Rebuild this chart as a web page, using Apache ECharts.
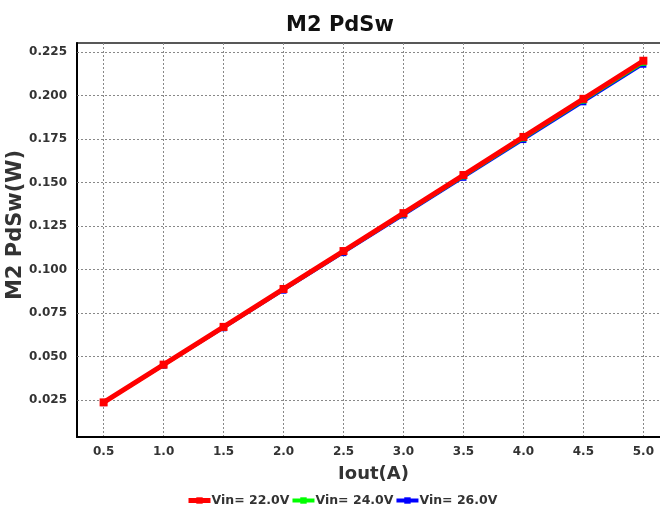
<!DOCTYPE html>
<html>
<head>
<meta charset="utf-8">
<script src="https://cdn.jsdelivr.net/npm/echarts@6/dist/echarts.min.js"></script>
<style>
html,body{margin:0;padding:0;background:#fff;}
#chart{width:660px;height:513px;}
</style>
</head>
<body>
<div id="chart"></div>
<script>
const iout = [0.5, 1.0, 1.5, 2.0, 2.5, 3.0, 3.5, 4.0, 4.5, 5.0];
const vin22 = [0.0236, 0.0453, 0.0670, 0.0888, 0.1106, 0.1324, 0.1543, 0.1762, 0.1981, 0.2200];
const vin24 = [0.0234, 0.0450, 0.0666, 0.0883, 0.1100, 0.1317, 0.1535, 0.1753, 0.1971, 0.2188];
const vin26 = [0.0232, 0.0447, 0.0662, 0.0878, 0.1094, 0.1310, 0.1527, 0.1744, 0.1961, 0.2177];
const xTicks = [0.5, 1.0, 1.5, 2.0, 2.5, 3.0, 3.5, 4.0, 4.5, 5.0];
const yTicks = [0.025, 0.050, 0.075, 0.100, 0.125, 0.150, 0.175, 0.200, 0.225];
const seriesNames = ['Vin= 22.0V', 'Vin= 24.0V', 'Vin= 26.0V'];

const FONT = 'DejaVu Sans';
const pairs = ys => iout.map((x, i) => [x, ys[i]]);

const chart = echarts.init(document.getElementById('chart'), null, {renderer: 'canvas'});
chart.setOption({
  animation: false,
  backgroundColor: '#ffffff',
  title: {
    text: 'M2 PdSw',
    left: 335, top: 10, textAlign: 'center',
    textStyle: {fontFamily: FONT, fontWeight: 'bold', fontSize: 21, color: '#111'}
  },
  legend: {
    bottom: 1, left: 181,
    itemWidth: 22, itemHeight: 8, itemGap: 1,
    textStyle: {fontFamily: FONT, fontWeight: 'bold', fontSize: 12.5, color: '#333', padding: [0,0,0,-4]},
    data: [
      {name: seriesNames[0], lineStyle: {width: 5}},
      {name: seriesNames[1], lineStyle: {width: 4}},
      {name: seriesNames[2], lineStyle: {width: 4}}
    ]
  },
  grid: {
    left: 77, top: 43, right: -10, bottom: 76,
    outerBoundsMode: 'none',
    show: true, borderColor: '#222', borderWidth: 1.5, containLabel: false
  },
  xAxis: {
    type: 'value', min: 0.278, max: 5.222,
    name: 'Iout(A)', nameLocation: 'middle', nameGap: 28, nameMoveOverlap: false,
    nameTextStyle: {fontFamily: FONT, fontWeight: 'bold', fontSize: 18, color: '#333'},
    axisLine: {show: true, lineStyle: {color: '#000', width: 2}},
    axisTick: {show: false, customValues: xTicks},
    axisLabel: {customValues: xTicks, margin: 9, fontFamily: FONT, fontWeight: 'bold', fontSize: 12, color: '#333',
      formatter: v => v.toFixed(1)},
    splitLine: {show: true, lineStyle: {color: '#888', type: [2, 2], width: 1}}
  },
  yAxis: {
    type: 'value', min: 0.0037, max: 0.2302,
    name: 'M2 PdSw(W)', nameLocation: 'middle', nameGap: 51, nameMoveOverlap: false,
    nameTextStyle: {fontFamily: FONT, fontWeight: 'bold', fontSize: 21, color: '#333', padding: [0, 0, 0, 30]},
    axisLine: {show: true, lineStyle: {color: '#000', width: 2}},
    axisTick: {show: true, inside: true, length: 2, customValues: yTicks, lineStyle: {color: '#666'}},
    axisLabel: {customValues: yTicks, margin: 10, fontFamily: FONT, fontWeight: 'bold', fontSize: 12, color: '#333',
      formatter: v => v.toFixed(3)},
    splitLine: {show: true, lineStyle: {color: '#888', type: [2, 2], width: 1}}
  },
  series: [
    {name: seriesNames[0], type: 'line', data: pairs(vin22), z: 5,
      symbol: 'rect', symbolSize: 8, color: '#ff0000',
      lineStyle: {width: 5, color: '#ff0000'}, itemStyle: {color: '#ff0000'}},
    {name: seriesNames[1], type: 'line', data: pairs(vin24), z: 4,
      symbol: 'rect', symbolSize: 6, color: '#00ff00',
      lineStyle: {width: 3, color: '#00ff00'}, itemStyle: {color: '#00ff00'}},
    {name: seriesNames[2], type: 'line', data: pairs(vin26), z: 3,
      symbol: 'rect', symbolSize: 6, color: '#0000ff',
      lineStyle: {width: 2, color: '#0000ff'}, itemStyle: {color: '#0000ff'}}
  ]
});
</script>
</body>
</html>
